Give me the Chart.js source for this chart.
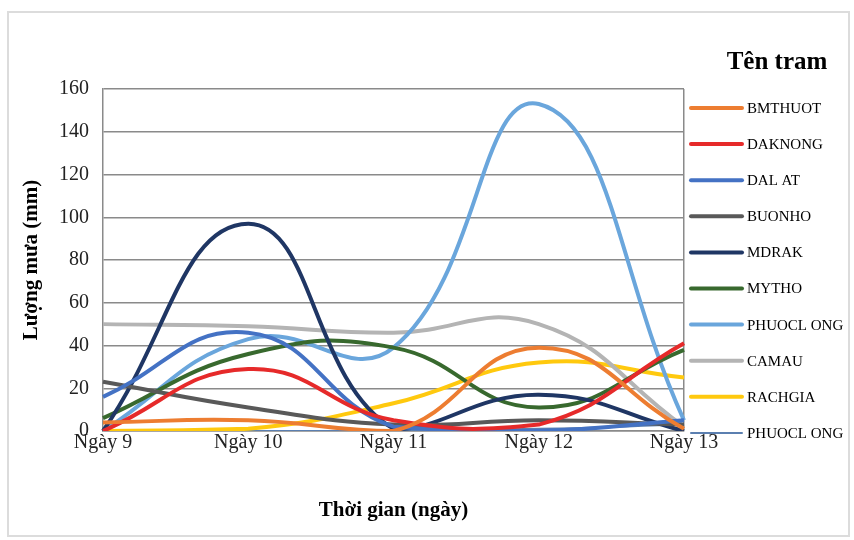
<!DOCTYPE html>
<html>
<head>
<meta charset="utf-8">
<script src="https://cdn.jsdelivr.net/npm/chart.js@4/dist/chart.umd.min.js"></script>
<style>
  html, body { margin: 0; padding: 0; background: #fff; }
  #wrap { position: relative; width: 854px; height: 540px; }
  #frame { position: absolute; left: 7px; top: 11px; width: 843px; height: 526px; border: 2px solid #dcdcdc; box-sizing: border-box; }
  canvas { position: absolute; left: 0; top: 0; }
</style>
</head>
<body>
<div id="wrap">
  <div id="frame"></div>
  <canvas id="myChart" width="854" height="540"></canvas>
</div>
<script>
const days = ["Ngày 9", "Ngày 10", "Ngày 11", "Ngày 12", "Ngày 13"];
const stations = ["BMTHUOT", "DAKNONG", "DALAT", "BUONHO", "MDRAK", "MYTHO", "PHUOCLONG", "CAMAU", "RACHGIA", "PHUOCLONG"];
const legendNames = ["BMTHUOT", "DAKNONG", "DAL AT", "BUONHO", "MDRAK", "MYTHO", "PHUOCL ONG", "CAMAU", "RACHGIA", "PHUOCL ONG"];

const bmthuot   = [4, 5, 0, 39, 1];
const daknong   = [0, 29, 5, 3, 41];
const dalat     = [16, 46, 2, 0, 5];
const buonho    = [23, 11, 3, 5, 3];
const mdrak     = [0, 97, 1, 17, 0];
const mytho     = [6, 36, 39, 11, 38];
const phuoclong = [0, 43, 39, 153, 5];
const camau     = [50, 49, 46, 50, 2];
const rachgia   = [0, 1, 13, 32, 25];
const phuoclong2 = [0, 0, 0, 1, 3];

const yTicks = [0, 20, 40, 60, 80, 100, 120, 140, 160];

const colors = ["#ED7D31", "#E62A2A", "#4472C4", "#595959", "#1F3664", "#38692E", "#6AA6DC", "#B4B4B4", "#FFC90E", "#5B7FB0"];
const widths = [4, 4, 4, 4, 4, 4, 4, 4, 4, 2];
const series = [bmthuot, daknong, dalat, buonho, mdrak, mytho, phuoclong, camau, rachgia, phuoclong2];

const serif = "'Liberation Serif', 'Times New Roman', serif";

// legend drawn by hand to place it like the original
const sideLegend = {
    id: 'sideLegend',
    afterDraw(chart) {
        const ctx = chart.ctx;
        ctx.save();
        ctx.fillStyle = '#000';
        ctx.font = 'bold 25px ' + serif;
        ctx.textAlign = 'center';
        ctx.textBaseline = 'middle';
        ctx.fillText('Tên tram', 777, 63);
        ctx.font = '15px ' + serif;
        ctx.textAlign = 'left';
        for (let i = 0; i < legendNames.length; i++) {
            let y = 108 + i * 36.1;
            ctx.strokeStyle = colors[i];
            ctx.lineWidth = widths[i];
            ctx.lineCap = 'round';
            ctx.beginPath();
            ctx.moveTo(691, y);
            ctx.lineTo(742, y);
            ctx.stroke();
            ctx.fillText(legendNames[i], 747, y + 1);
        }
        ctx.restore();
    }
};

const myChart = document.getElementById('myChart');

let lineChart = new Chart(myChart, {
    type: 'line',
    data: {
        labels: days,
        datasets: series.map((values, i) => ({
            label: stations[i],
            data: values,
            borderColor: colors[i],
            backgroundColor: colors[i],
            borderWidth: widths[i],
            pointRadius: 0,
            tension: 0.45,
            fill: false
        }))
    },
    options: {
        responsive: false,
        animation: false,
        layout: { padding: { left: 15, right: 170, top: 89, bottom: 0 } },
        plugins: {
            legend: { display: false },
            tooltip: { enabled: false }
        },
        scales: {
            x: {
                offset: false,
                afterFit: (scale) => { scale.height = 109; },
                grid: {
                    color: (c) => c.index === 4 ? '#8a8a8a' : 'transparent',
                    lineWidth: 1.5,
                    drawTicks: false
                },
                border: { color: '#8a8a8a', width: 1.5 },
                ticks: { color: '#222', font: { family: serif, size: 20 }, padding: 0, maxRotation: 0 },
                title: {
                    display: true,
                    text: 'Thời gian (ngày)',
                    color: '#000',
                    font: { family: serif, size: 21, weight: 'bold' },
                    padding: { top: 0, bottom: 17 }
                }
            },
            y: {
                min: 0,
                max: 160,
                afterFit: (scale) => { scale.width = 88; },
                afterBuildTicks: (scale) => { scale.ticks = yTicks.map(v => ({ value: v })); },
                grid: { color: '#8a8a8a', lineWidth: 1.5, drawTicks: false },
                border: { color: '#8a8a8a', width: 1.5 },
                ticks: { color: '#222', font: { family: serif, size: 20 }, padding: 14 },
                title: {
                    display: true,
                    text: 'Lượng mưa (mm)',
                    color: '#000',
                    font: { family: serif, size: 21, weight: 'bold' },
                    padding: { top: 4, bottom: 0 }
                }
            }
        }
    },
    plugins: [sideLegend]
});
</script>
</body>
</html>
